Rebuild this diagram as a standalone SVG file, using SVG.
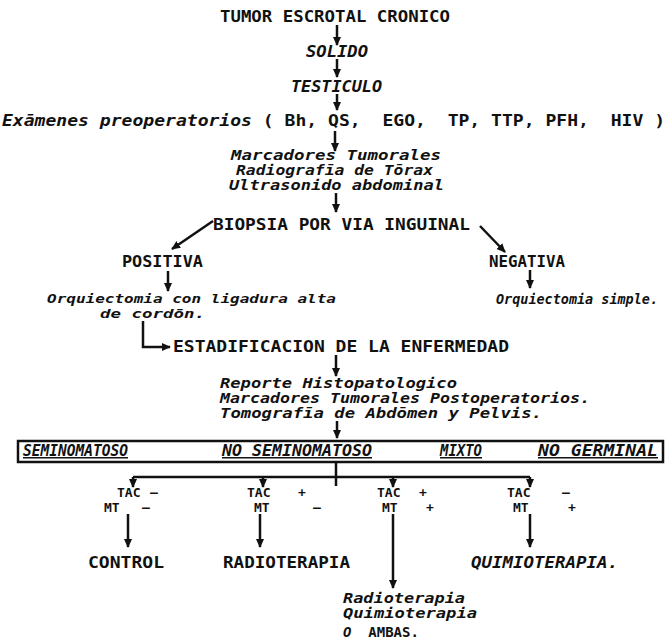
<svg xmlns="http://www.w3.org/2000/svg" width="667" height="643" viewBox="0 0 667 643">
<defs>
<marker id="ah" markerUnits="userSpaceOnUse" markerWidth="9" markerHeight="9" viewBox="0 0 10 10" refX="9" refY="5" orient="auto"><path d="M0,0.5 L10,5 L0,9.5 z" fill="#111"/></marker>
</defs>
<style>
text { font-family: "DejaVu Sans Mono","Liberation Mono",monospace; font-weight: bold; font-size: 15px; fill: #111; }
.s { font-size: 14px; }
.xs { font-size: 13px; }
.it { font-style: italic; }
.up { font-style: normal; }
.ul { text-decoration: underline; }
#connectors line, #connectors path { stroke: #111; stroke-width: 2.5; fill: none; }
.a { marker-end: url(#ah); }
.box { fill: none; stroke: #111; stroke-width: 2.5; }
</style>
<rect width="667" height="643" fill="#fff"/>

<g id="n-tumor"><text x="220" y="22" textLength="230" lengthAdjust="spacingAndGlyphs">TUMOR ESCROTAL CRONICO</text></g>
<g id="n-solido"><text class="it" x="306" y="57" textLength="62" lengthAdjust="spacingAndGlyphs">SOLIDO</text></g>
<g id="n-testiculo"><text class="it" x="291" y="92" textLength="91" lengthAdjust="spacingAndGlyphs">TESTICULO</text></g>
<g id="n-examenes"><text class="it" x="2" y="126" textLength="663" lengthAdjust="spacingAndGlyphs" xml:space="preserve">Exāmenes preoperatorios <tspan class="up">( Bh, QS,  EGO,  TP, TTP, PFH,  HIV )</tspan></text></g>
<g id="n-marcadores">
<text class="it s" x="231" y="160" textLength="210" lengthAdjust="spacingAndGlyphs">Marcadores Tumorales</text>
<text class="it s" x="236" y="175" textLength="197" lengthAdjust="spacingAndGlyphs">Radiografīa de Tōrax</text>
<text class="it s" x="229" y="190" textLength="215" lengthAdjust="spacingAndGlyphs">Ultrasonido abdominal</text>
</g>
<g id="n-biopsia"><text x="213" y="230" textLength="257" lengthAdjust="spacingAndGlyphs">BIOPSIA POR VIA INGUINAL</text></g>
<g id="n-positiva"><text x="122" y="267" textLength="81" lengthAdjust="spacingAndGlyphs">POSITIVA</text></g>
<g id="n-negativa"><text x="489" y="267" textLength="76" lengthAdjust="spacingAndGlyphs">NEGATIVA</text></g>
<g id="n-orq-alta">
<text class="it xs" x="47" y="302.5" textLength="289" lengthAdjust="spacingAndGlyphs">Orquiectomia con ligadura alta</text>
<text class="it xs" x="100" y="318" textLength="105" lengthAdjust="spacingAndGlyphs">de cordōn.</text>
</g>
<g id="n-orq-simple"><text class="it s" x="496" y="304" textLength="162" lengthAdjust="spacingAndGlyphs">Orquiectomia simple.</text></g>
<g id="n-estadificacion"><text x="173" y="352" textLength="336" lengthAdjust="spacingAndGlyphs">ESTADIFICACION DE LA ENFERMEDAD</text></g>
<g id="n-reporte">
<text class="it s" x="220" y="388" textLength="237" lengthAdjust="spacingAndGlyphs">Reporte Histopatologico</text>
<text class="it s" x="220" y="403" textLength="370" lengthAdjust="spacingAndGlyphs">Marcadores Tumorales Postoperatorios.</text>
<text class="it s" x="220" y="418" textLength="322" lengthAdjust="spacingAndGlyphs">Tomografīa de Abdōmen y Pelvis.</text>
</g>
<g id="n-tipos">
<rect class="box" x="18" y="441" width="645" height="21"/>
<text class="it ul" x="23" y="456" textLength="105" lengthAdjust="spacingAndGlyphs">SEMINOMATOSO</text>
<text class="it ul" x="222" y="456" textLength="150" lengthAdjust="spacingAndGlyphs">NO SEMINOMATOSO</text>
<text class="it ul" x="440" y="456" textLength="42" lengthAdjust="spacingAndGlyphs">MIXTO</text>
<text class="it ul" x="538" y="456" textLength="120" lengthAdjust="spacingAndGlyphs">NO GERMINAL</text>
</g>
<g id="n-c1"><text class="xs" x="117" y="497">TAC</text><text class="xs" x="150" y="497">–</text><text class="xs" x="104" y="512">MT</text><text class="xs" x="142" y="512">—</text></g>
<g id="n-c2"><text class="xs" x="247" y="497">TAC</text><text class="xs" x="298" y="497">+</text><text class="xs" x="254" y="512">MT</text><text class="xs" x="313" y="512">—</text></g>
<g id="n-c3"><text class="xs" x="377" y="497">TAC</text><text class="xs" x="419" y="497">+</text><text class="xs" x="382" y="512">MT</text><text class="xs" x="426" y="512">+</text></g>
<g id="n-c4"><text class="xs" x="507" y="497">TAC</text><text class="xs" x="562" y="497">–</text><text class="xs" x="513" y="512">MT</text><text class="xs" x="568" y="512">+</text></g>
<g id="n-control"><text x="88" y="568" textLength="76" lengthAdjust="spacingAndGlyphs">CONTROL</text></g>
<g id="n-radio"><text x="223" y="568" textLength="127" lengthAdjust="spacingAndGlyphs">RADIOTERAPIA</text></g>
<g id="n-quimio"><text class="it" x="471" y="568" textLength="147" lengthAdjust="spacingAndGlyphs">QUIMIOTERAPIA.</text></g>
<g id="n-ambas">
<text class="it s" x="343" y="603" textLength="122" lengthAdjust="spacingAndGlyphs">Radioterapia</text>
<text class="it s" x="343" y="618" textLength="134" lengthAdjust="spacingAndGlyphs">Quimioterapia</text>
<text class="s" x="343" y="637" xml:space="preserve"><tspan class="it">O</tspan>  AMBAS.</text>
</g>

<g id="connectors">
<line class="a" x1="337" y1="25" x2="337" y2="45"/>
<line class="a" x1="337" y1="59" x2="337" y2="77"/>
<line class="a" x1="337" y1="94" x2="337" y2="110"/>
<line class="a" x1="335" y1="131" x2="335" y2="151"/>
<line class="a" x1="336" y1="193" x2="336" y2="212"/>
<line class="a" x1="213" y1="221" x2="172" y2="249"/>
<line class="a" x1="480" y1="226" x2="505" y2="252"/>
<line class="a" x1="168" y1="271" x2="168" y2="291"/>
<line class="a" x1="530" y1="270" x2="530" y2="288"/>
<path class="a" d="M143,321 V347 H170"/>
<line class="a" x1="336" y1="355" x2="336" y2="376"/>
<line class="a" x1="337" y1="421" x2="337" y2="438"/>
<line x1="336" y1="462" x2="336" y2="486"/>
<line x1="133" y1="477" x2="530" y2="477"/>
<line class="a" x1="133" y1="477" x2="133" y2="487"/>
<line class="a" x1="263" y1="477" x2="263" y2="487"/>
<line class="a" x1="393" y1="477" x2="393" y2="487"/>
<line class="a" x1="530" y1="477" x2="530" y2="487"/>
<line class="a" x1="128" y1="514" x2="128" y2="547"/>
<line class="a" x1="260" y1="514" x2="260" y2="547"/>
<line class="a" x1="393" y1="514" x2="393" y2="588"/>
<line class="a" x1="530" y1="514" x2="530" y2="547"/>
</g>
</svg>
